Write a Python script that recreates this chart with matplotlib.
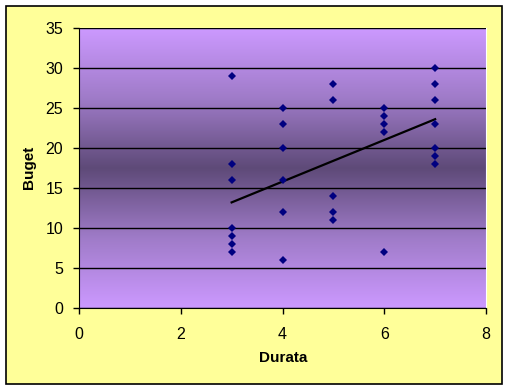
import numpy as np
import matplotlib
matplotlib.use("Agg")
import matplotlib.pyplot as plt
from matplotlib.colors import LinearSegmentedColormap
from matplotlib.patches import Rectangle

plt.rcParams['font.family'] = ['Liberation Sans', 'DejaVu Sans']

# data
durata = [3, 3, 3, 3, 3, 3, 3,
          4, 4, 4, 4, 4, 4,
          5, 5, 5, 5, 5,
          6, 6, 6, 6, 6,
          7, 7, 7, 7, 7, 7, 7]
buget = [29, 18, 16, 10, 9, 8, 7,
         25, 23, 20, 16, 12, 6,
         28, 26, 14, 12, 11,
         25, 24, 23, 22, 7,
         30, 28, 26, 23, 20, 19, 18]
trend_x = [3, 7]
trend_y = [13.2, 23.6]
x_ticks = [0, 2, 4, 6, 8]
y_ticks = [0, 5, 10, 15, 20, 25, 30, 35]

fig = plt.figure(figsize=(5.09, 3.9), dpi=100)
fig.patch.set_facecolor('white')
# yellow chart area with black frame
fig.patches.append(Rectangle((5.5/509, 1 - 383.5/390), 496/509, 378/390,
                             transform=fig.transFigure, facecolor='#FFFF99',
                             edgecolor='black', linewidth=1.2, zorder=-10))

ax = fig.add_axes([79/509, (390-308)/390, 407/509, 280/390])
ax.set_zorder(5)
ax.set_facecolor('none')

# vertical gradient: light at top and bottom, dark in the middle
cmap = LinearSegmentedColormap.from_list('purp', ['#CC99FF', '#9F7BC8', '#5E4A78', '#9F7BC8', '#CC99FF'])
grad = np.linspace(0, 1, 256).reshape(-1, 1)
ax.imshow(grad, cmap=cmap, extent=[0, 8, 0, 35], aspect='auto', zorder=0, interpolation='bicubic')

ax.set_xlim(0, 8)
ax.set_ylim(0, 35)
ax.set_xticks(x_ticks)
ax.set_yticks(y_ticks)
ax.yaxis.grid(True, color='black', linewidth=1)
ax.set_axisbelow(False)
for g in ax.get_ygridlines():
    g.set_zorder(1)

ax.plot(trend_x, trend_y, color='black', linewidth=1.6, zorder=3)
ax.plot(durata, buget, linestyle='none', marker='D', markersize=4.3,
        markeredgewidth=0, color='#000080', zorder=4)

for s in ['top', 'right']:
    ax.spines[s].set_color('white')
for s in ['left', 'bottom']:
    ax.spines[s].set_color('black')
ax.tick_params(direction='out', length=4.5, width=1, labelsize=11.5)
ax.tick_params(axis='x', pad=9)
ax.tick_params(axis='y', pad=7)

fig.text(283/509, 1 - 358/390, 'Durata', ha='center', va='center',
         fontsize=11, fontweight='bold')
fig.text(29/509, 1 - 167/390, 'Buget', ha='center', va='center',
         fontsize=11, fontweight='bold', rotation=90)

fig.savefig('out.png', dpi=100)
